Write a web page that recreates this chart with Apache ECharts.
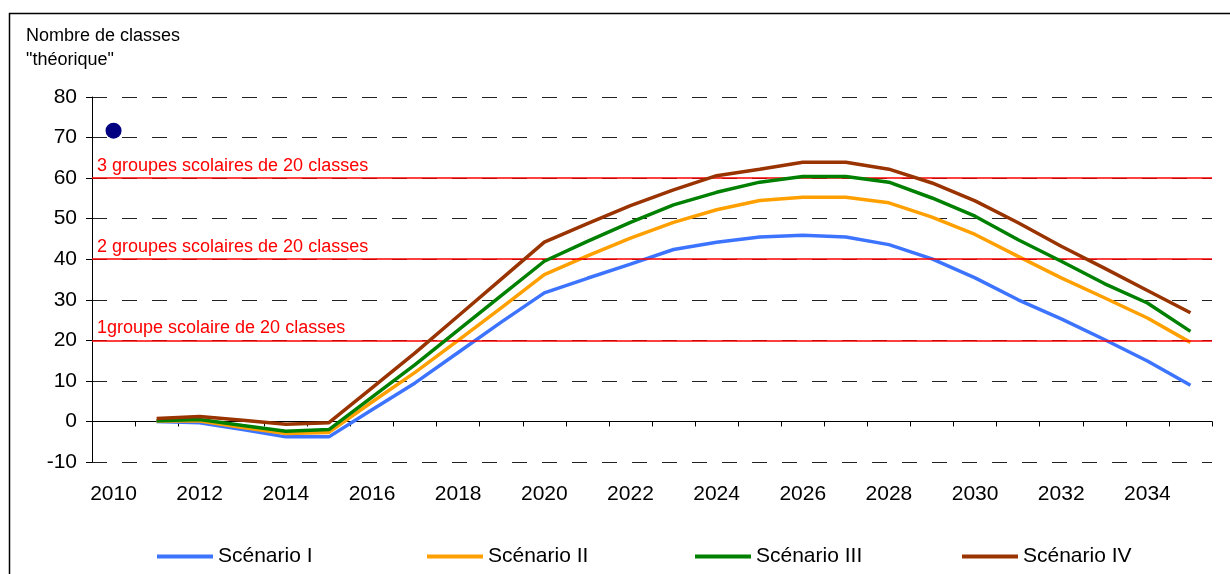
<!DOCTYPE html>
<html>
<head>
<meta charset="utf-8">
<script src="https://cdn.jsdelivr.net/npm/echarts@6/dist/echarts.min.js"></script>
<style>
  html, body { margin: 0; padding: 0; background: #fff; }
  #chart { width: 1230px; height: 574px; }
</style>
</head>
<body>
<div id="chart"></div>
<script>
// années (axe des catégories)
var years = [];
for (var y = 2010; y <= 2035; y++) years.push(String(y));

// valeurs (2010 sans valeur)
var scenario1 = [null, 0.0, -0.3, -2.0, -3.8, -3.8, 2.9, 9.5, 17.0, 24.5, 31.7, 35.3, 38.8, 42.4, 44.2, 45.5, 45.9, 45.5, 43.6, 40.1, 35.4, 30.0, 25.3, 20.2, 14.9, 8.9];
var scenario2 = [null, 0.1, 0.1, -1.5, -3.0, -2.7, 4.8, 12.1, 20.0, 28.0, 36.2, 40.8, 45.2, 49.1, 52.2, 54.5, 55.3, 55.3, 53.9, 50.4, 46.1, 40.7, 35.4, 30.5, 25.5, 19.5];
var scenario3 = [null, 0.2, 0.5, -1.0, -2.4, -2.0, 6.0, 14.0, 22.5, 31.0, 39.5, 44.4, 49.1, 53.4, 56.5, 59.0, 60.4, 60.4, 59.0, 55.1, 50.6, 44.8, 39.5, 34.0, 29.2, 22.2];
var scenario4 = [null, 0.7, 1.2, 0.3, -0.7, -0.3, 8.3, 16.9, 26.0, 35.1, 44.2, 48.8, 53.2, 57.1, 60.6, 62.2, 63.9, 63.9, 62.2, 58.8, 54.4, 49.0, 43.2, 37.8, 32.3, 26.8];
var pointValue = [71.7, null, null, null, null, null, null, null, null, null, null, null, null, null, null, null, null, null, null, null, null, null, null, null, null, null];

var seuils = [20, 40, 60];
var seuilLabels = ["1groupe scolaire de 20 classes", "2 groupes scolaires de 20 classes", "3 groupes scolaires de 20 classes"];

var names = ["Scénario I", "Scénario II", "Scénario III", "Scénario IV"];
var colors = ["#3d74ff", "#ffa000", "#008000", "#993300"];
var legendLeft = [157, 427, 695, 962];

var font = "Liberation Sans, Arial, sans-serif";

var chart = echarts.init(document.getElementById("chart"));

var seriesData = [scenario1, scenario2, scenario3, scenario4];
var series = names.map(function (n, i) {
  return {
    name: n,
    type: "line",
    data: seriesData[i],
    symbol: "none",
    lineStyle: { color: colors[i], width: 3.5 },
    itemStyle: { color: colors[i] },
    z: 3 + i
  };
});

// lignes rouges des seuils
series.push({
  name: "seuils",
  type: "line",
  data: [],
  markLine: {
    silent: true,
    symbol: "none",
    animation: false,
    lineStyle: { color: "#ff0000", width: 1.5, type: "solid" },
    label: {
      position: "insideStartTop",
      distance: [5, 3],
      color: "#ff0000",
      fontSize: 18,
      fontFamily: font
    },
    data: seuils.map(function (v, i) {
      return { yAxis: v, label: { formatter: seuilLabels[i] } };
    })
  },
  z: 2
});

series.push({
  name: "point",
  type: "scatter",
  data: pointValue,
  symbolSize: 16,
  itemStyle: { color: "#000080", opacity: 1 },
  z: 10
});

var legends = names.map(function (n, i) {
  return {
    data: [n],
    left: legendLeft[i],
    top: 546,
    padding: 0,
    icon: "rect",
    itemWidth: 56,
    itemHeight: 4,
    textStyle: { fontSize: 21, fontFamily: font, color: "#000" }
  };
});

chart.setOption({
  animation: false,
  backgroundColor: "#fff",
  title: {
    text: "Nombre de classes\n\"théorique\"",
    left: 26,
    top: 24,
    padding: 0,
    textStyle: { fontSize: 18, fontWeight: "normal", color: "#000", fontFamily: font, lineHeight: 24 }
  },
  graphic: [{
    type: "rect",
    shape: { x: 9.5, y: 13.5, width: 1240, height: 600 },
    style: { fill: "none", stroke: "#000", lineWidth: 1.5 },
    silent: true
  }],
  legend: legends,
  grid: { left: 92, right: 18, top: 97, bottom: 112 },
  xAxis: [{
    type: "category",
    data: years,
    boundaryGap: true,
    axisLine: { onZero: true, lineStyle: { color: "#000", width: 1 } },
    axisTick: { show: true, interval: 0, length: 5, lineStyle: { color: "#000" } },
    axisLabel: { show: false },
    splitLine: { show: false }
  }, {
    type: "category",
    data: years,
    position: "bottom",
    boundaryGap: true,
    axisLine: { show: false, onZero: false },
    axisTick: { show: false },
    axisLabel: { interval: 1, margin: 22, fontSize: 21, color: "#000", fontFamily: font },
    splitLine: { show: false }
  }],
  yAxis: {
    type: "value",
    min: -10,
    max: 80,
    interval: 10,
    axisLine: { show: true, lineStyle: { color: "#000" } },
    axisTick: { show: true, length: 6, lineStyle: { color: "#000" } },
    axisLabel: { margin: 15, fontSize: 21, color: "#000", fontFamily: font },
    splitLine: { show: true, lineStyle: { color: "#222", width: 1, type: [15, 15] } }
  },
  series: series
});
</script>
</body>
</html>
